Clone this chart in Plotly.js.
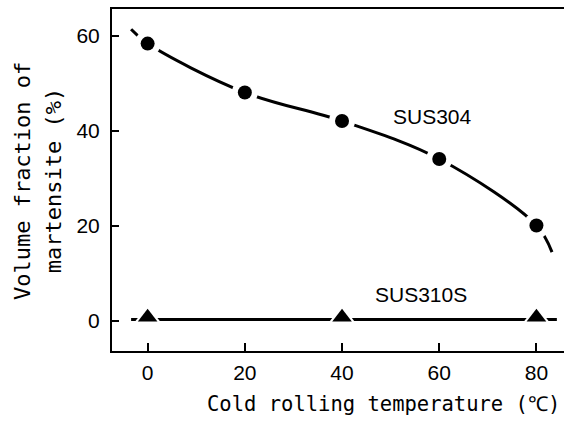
<!DOCTYPE html>
<html><head><meta charset="utf-8">
<script src="https://cdn.plot.ly/plotly-3.0.1.min.js"></script>
<style>html,body{margin:0;padding:0;background:#fff}#chart{width:564px;height:428px}</style>
</head><body><div id="chart"></div>
<script>
// SUS304 measured points
const temp304 = [0, 20, 40, 60, 80];
const frac304 = [58.4, 48.1, 42.1, 34.1, 20.1];
// SUS304 fitted curve (incl. extended ends)
const curve304X = [-3.4, 0, 20, 40, 60, 80, 83.2];
const curve304Y = [61.4, 58.4, 48.1, 42.1, 34.1, 20.1, 14.5];
// SUS310S measured points
const temp310 = [0, 40, 80];
const frac310 = [0.8, 0.8, 0.8];
// SUS310S line
const line310X = [-3.4, 84.2];
const line310Y = [0.3, 0.3];
const xTicks = [0, 20, 40, 60, 80];
const yTicks = [0, 20, 40, 60];

const traces = [
  {x: curve304X, y: curve304Y, mode: 'lines', line: {color: '#000', width: 3, shape: 'spline', smoothing: 1}, hoverinfo: 'skip'},
  {x: line310X, y: line310Y, mode: 'lines', line: {color: '#000', width: 3}, hoverinfo: 'skip'},
  {x: temp304, y: frac304, mode: 'markers', marker: {symbol: 'circle', size: 26, color: '#fff'}},
  {x: temp310, y: frac310, mode: 'markers', marker: {symbol: 'triangle-up', size: 24, color: '#fff'}},
  {x: temp304, y: frac304, mode: 'markers', marker: {symbol: 'circle', size: 14, color: '#000'}},
  {x: temp310, y: frac310, mode: 'markers', marker: {symbol: 'triangle-up', size: 17, color: '#000'}}
];

const layout = {
  width: 564, height: 428,
  margin: {l: 112, r: 0, t: 9, b: 77},
  paper_bgcolor: '#fff', plot_bgcolor: '#fff',
  showlegend: false,
  xaxis: {range: [-7.33, 85.67], tickvals: xTicks, ticktext: xTicks.map(String), ticks: 'inside', ticklen: 8, tickwidth: 2,
    tickcolor: '#000', showline: true, linecolor: '#000', linewidth: 2, mirror: true, showgrid: false, zeroline: false,
    tickfont: {family: 'Liberation Sans, Arial, sans-serif', size: 21, color: '#000'}, ticklabelstandoff: 2},
  yaxis: {range: [-6.32, 65.68], tickvals: yTicks, ticktext: yTicks.map(String), ticks: 'inside', ticklen: 7, tickwidth: 2,
    tickcolor: '#000', showline: true, linecolor: '#000', linewidth: 2, showgrid: false, zeroline: false,
    tickfont: {family: 'Liberation Sans, Arial, sans-serif', size: 21, color: '#000'}, ticklabelstandoff: 6},
  annotations: [
    {text: 'SUS304', x: 58.7, y: 43.0, xref: 'x', yref: 'y', showarrow: false, font: {family: 'Liberation Sans, Arial, sans-serif', size: 21, color: '#000'}},
    {text: 'SUS310S', x: 56.3, y: 5.6, xref: 'x', yref: 'y', showarrow: false, font: {family: 'Liberation Sans, Arial, sans-serif', size: 21, color: '#000'}},
    {text: 'Cold rolling temperature (℃)', x: 0.600, y: -0.155, xref: 'paper', yref: 'paper', xanchor: 'center', yanchor: 'middle', showarrow: false,
      font: {family: 'DejaVu Sans Mono, monospace', size: 20.5, color: '#000'}},
    {text: 'Volume fraction of', x: -0.199, y: 0.497, xref: 'paper', yref: 'paper', xanchor: 'center', yanchor: 'middle', textangle: -90, showarrow: false,
      font: {family: 'DejaVu Sans Mono, monospace', size: 22, color: '#000'}},
    {text: 'martensite (%)', x: -0.13, y: 0.497, xref: 'paper', yref: 'paper', xanchor: 'center', yanchor: 'middle', textangle: -90, showarrow: false,
      font: {family: 'DejaVu Sans Mono, monospace', size: 22, color: '#000'}}
  ]
};
Plotly.newPlot('chart', traces, layout, {displayModeBar: false, staticPlot: true});
</script>
</body></html>
